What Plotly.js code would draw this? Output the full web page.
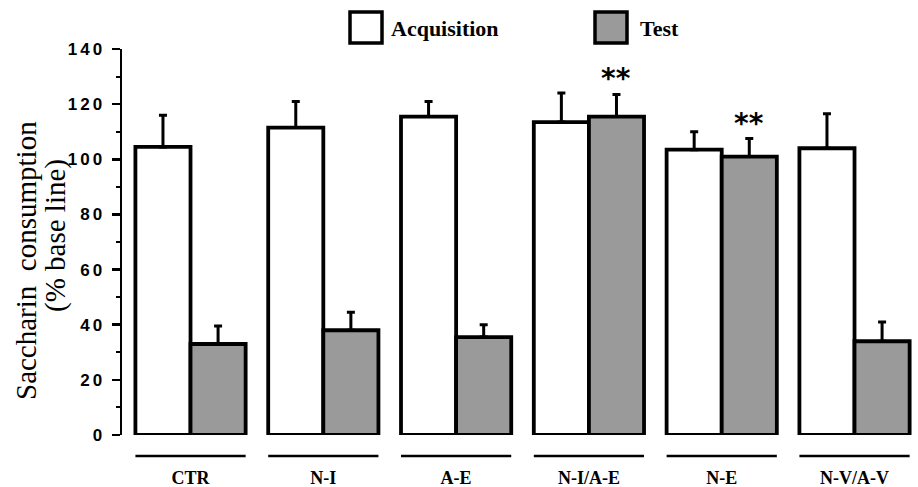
<!DOCTYPE html>
<html><head><meta charset="utf-8">
<script src="https://cdn.plot.ly/plotly-3.0.1.min.js"></script>
<style>
html,body{margin:0;padding:0;background:#fff;}
#chart{width:918px;height:487px;}
.ytick text{letter-spacing:3px;}
</style></head><body><div id="chart"></div>
<script>
// ---- data ----
const groups = ['CTR', 'N-I', 'A-E', 'N-I/A-E', 'N-E', 'N-V/A-V'];
const seriesNames = ['Acquisition', 'Test'];
const acquisition = [104.5, 111.5, 115.5, 113.5, 103.5, 104];
const acquisitionErr = [11.5, 9.5, 5.5, 10.5, 6.5, 12.5];
const test = [33, 38, 35.5, 115.5, 101, 34];
const testErr = [6.5, 6.5, 4.5, 8, 6.5, 7];
const significance = ['', '', '', '**', '**', ''];
const yTicks = [0, 20, 40, 60, 80, 100, 120, 140];
const yTitleLines = ['Saccharin  consumption', '(% base line)'];

// ---- layout geometry ----
const W = 918, H = 487;
const M = {l: 122, r: 0, t: 49, b: 52};
const PW = W - M.l - M.r, PH = H - M.t - M.b;
const px2x = p => (p - M.l) / PW;
const px2y = p => (H - M.b - p) / PH;
const bargap = 0.17;
const half = (1 - bargap) / 2;
const testOffset = (1 - bargap) / 4;

const serifBold = {family: 'Liberation Serif, Times New Roman, serif', weight: 'bold', color: '#000'};
const barLine = {color: '#000', width: 3.8};

const traces = [
  {
    type: 'bar', name: seriesNames[0], x: groups, y: acquisition,
    marker: {color: '#ffffff', line: barLine},
    error_y: {type: 'data', symmetric: false, array: acquisitionErr,
              arrayminus: acquisition.map(() => 0), color: '#000', thickness: 3, width: 4},
    cliponaxis: false, hoverinfo: 'skip'
  },
  {
    type: 'bar', name: seriesNames[1], x: groups, y: test,
    marker: {color: '#9a9a9a', line: barLine},
    error_y: {type: 'data', symmetric: false, array: testErr,
              arrayminus: test.map(() => 0), color: '#000', thickness: 3, width: 4},
    cliponaxis: false, hoverinfo: 'skip'
  }
];

const shapes = [];
const annotations = [];

// group underlines
groups.forEach((g, i) => {
  shapes.push({type: 'line', xref: 'x', yref: 'paper',
    x0: i - half, x1: i + half, y0: px2y(456), y1: px2y(456),
    line: {color: '#000', width: 2.5}});
});

// significance stars
groups.forEach((g, i) => {
  if (significance[i]) {
    annotations.push({xref: 'x', yref: 'y', x: i + testOffset, y: test[i] + testErr[i],
      text: significance[i], showarrow: false, yanchor: 'bottom', xanchor: 'center', yshift: -3,
      font: {family: 'DejaVu Sans, sans-serif', size: 28, weight: 'bold', color: '#000'}});
  }
});

// legend (boxes + labels)
shapes.push({type: 'rect', xref: 'paper', yref: 'paper',
  x0: px2x(350), x1: px2x(382), y0: px2y(43), y1: px2y(12),
  fillcolor: '#ffffff', line: {color: '#000', width: 3.5}});
shapes.push({type: 'rect', xref: 'paper', yref: 'paper',
  x0: px2x(595), x1: px2x(627), y0: px2y(43), y1: px2y(12),
  fillcolor: '#9a9a9a', line: {color: '#000', width: 3.5}});
annotations.push({xref: 'paper', yref: 'paper', x: px2x(389), y: px2y(28), xanchor: 'left', yanchor: 'middle',
  text: seriesNames[0], showarrow: false, font: Object.assign({size: 22}, serifBold)});
annotations.push({xref: 'paper', yref: 'paper', x: px2x(638), y: px2y(28), xanchor: 'left', yanchor: 'middle',
  text: seriesNames[1], showarrow: false, font: Object.assign({size: 22}, serifBold)});

// y-axis title (two rotated lines)
annotations.push({xref: 'paper', yref: 'paper', x: px2x(26), y: px2y(261), xanchor: 'center', yanchor: 'middle',
  text: yTitleLines[0], textangle: -90, showarrow: false,
  font: {family: 'Liberation Serif, Times New Roman, serif', size: 29, color: '#000'}});
annotations.push({xref: 'paper', yref: 'paper', x: px2x(56), y: px2y(236), xanchor: 'center', yanchor: 'middle',
  text: yTitleLines[1], textangle: -90, showarrow: false,
  font: {family: 'Liberation Serif, Times New Roman, serif', size: 29, color: '#000'}});

const layout = {
  width: W, height: H, margin: M,
  paper_bgcolor: '#fff', plot_bgcolor: '#fff',
  barmode: 'group', bargap: bargap, bargroupgap: 0,
  showlegend: false,
  xaxis: {
    type: 'category', range: [-0.516, 5.478], showline: false, showgrid: false,
    zeroline: false, ticks: '', ticklabelstandoff: 30, fixedrange: true,
    tickfont: Object.assign({size: 18}, serifBold)
  },
  yaxis: {
    range: [0, 140], tickvals: yTicks, showline: true, linecolor: '#000', linewidth: 2.5,
    ticks: 'outside', ticklen: 8, tickwidth: 2.5, tickcolor: '#000', ticklabelstandoff: 3,
    minor: {dtick: 10, ticks: 'outside', ticklen: 4, tickwidth: 2, tickcolor: '#000'},
    showgrid: false, zeroline: false, fixedrange: true,
    tickfont: {family: 'Liberation Sans, Arial, sans-serif', size: 17, weight: 'bold', color: '#000'}
  },
  shapes: shapes,
  annotations: annotations
};

Plotly.newPlot('chart', traces, layout, {displayModeBar: false, staticPlot: true});
</script></body></html>
